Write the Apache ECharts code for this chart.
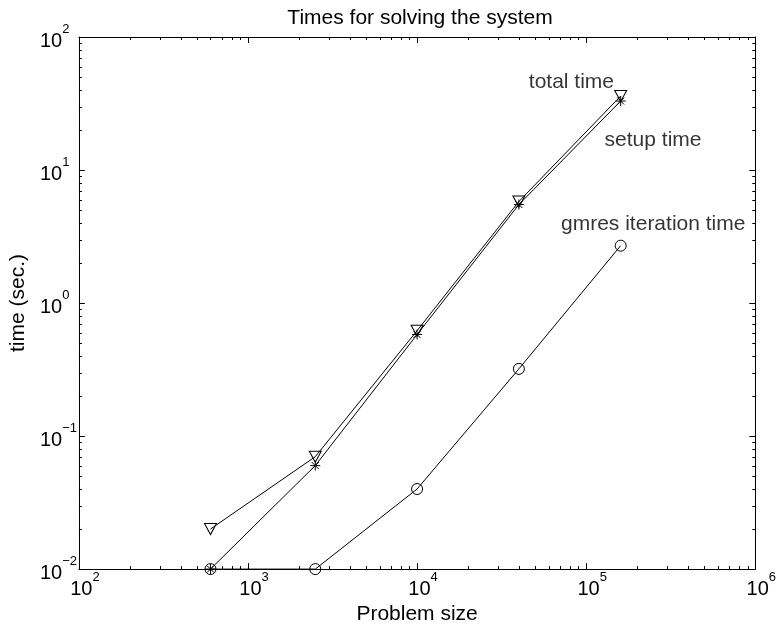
<!DOCTYPE html>
<html>
<head>
<meta charset="utf-8">
<script src="https://cdn.jsdelivr.net/npm/echarts@6/dist/echarts.min.js"></script>
<style>html,body{margin:0;padding:0;background:#fff}#c{width:779px;height:630px}</style>
</head>
<body>
<div id="c"></div>
<script>
// ---- data ----
const problemSize = [600, 2500, 10000, 40000, 160000];
const totalTime = [0.02, 0.07, 0.62, 5.8, 36];
const setupTime = [0.01, 0.06, 0.58, 5.5, 33];
const gmresTime = [0.01, 0.01, 0.04, 0.32, 2.7];
const xRange = [1e2, 1e6];
const yRange = [1e-2, 1e2];
const annotationTexts = ['total time', 'setup time', 'gmres iteration time'];
const annotationX = [45800, 128500, 71000];
const annotationY = [46, 16.7, 3.9];
const titleText = 'Times for solving the system';
const xName = 'Problem size';
const yName = 'time (sec.)';

const FONT = "'Liberation Sans', Arial, Helvetica, sans-serif";
const chart = echarts.init(document.getElementById('c'), null, {renderer: 'canvas'});

function expLabel(v) {
  const e = Math.round(Math.log10(v));
  return '{b|10}{s|' + String(e).replace('-', '\u2212') + '}';
}
const rich = {
  b: {fontSize: 20, lineHeight: 28, verticalAlign: 'bottom', fontFamily: FONT, color: '#000'},
  s: {fontSize: 13, lineHeight: 15, verticalAlign: 'top', fontFamily: FONT, color: '#000'}
};
const axisLineStyle = {show: true, lineStyle: {color: '#000', width: 1}};
const tickStyle = {show: true, inside: true, length: 6, lineStyle: {color: '#000', width: 1}};

function zipXY(ys) { return problemSize.map((x, i) => [x, ys[i]]); }
const openStyle = {color: 'rgba(0,0,0,0)', borderColor: '#000', borderWidth: 1};
const lineStyle = {color: '#000', width: 1};

chart.setOption({
  animation: false,
  backgroundColor: '#fff',
  textStyle: {fontFamily: FONT},
  title: {
    text: titleText, left: 415, top: 3, textAlign: 'center',
    textStyle: {fontSize: 21, fontWeight: 'normal', color: '#000', fontFamily: FONT}
  },
  grid: {left: 67, right: 16, top: 37, bottom: 45, containLabel: false},
  xAxis: [{
    type: 'log', logBase: 10, min: xRange[0], max: xRange[1], splitNumber: 4,
    position: 'bottom',
    name: xName, nameLocation: 'middle', nameGap: 25,
    nameTextStyle: {fontSize: 21, color: '#000', fontFamily: FONT},
    axisLine: axisLineStyle, axisTick: tickStyle, splitLine: {show: false},
    axisLabel: {show: true, margin: 2, formatter: expLabel, rich: rich, padding: [0, 0, 0, 12]}
  }, {
    type: 'log', logBase: 10, min: xRange[0], max: xRange[1], splitNumber: 4,
    position: 'top',
    axisLine: axisLineStyle, axisTick: tickStyle, splitLine: {show: false},
    axisLabel: {show: false}
  }],
  yAxis: [{
    type: 'log', logBase: 10, min: yRange[0], max: yRange[1], splitNumber: 4,
    position: 'left',
    name: yName, nameLocation: 'middle', nameGap: 36, nameRotate: 90,
    nameTextStyle: {fontSize: 21, color: '#000', fontFamily: FONT},
    axisLine: axisLineStyle, axisTick: tickStyle, splitLine: {show: false},
    axisLabel: {show: true, margin: 39, align: 'left', formatter: expLabel, rich: rich}
  }, {
    type: 'log', logBase: 10, min: yRange[0], max: yRange[1], splitNumber: 4,
    position: 'right',
    axisLine: axisLineStyle, axisTick: tickStyle, splitLine: {show: false},
    axisLabel: {show: false}
  }],
  series: [{
    name: 'total', type: 'line', data: zipXY(totalTime), clip: false,
    symbol: 'triangle', symbolRotate: 180, symbolSize: [12, 11],
    itemStyle: openStyle, lineStyle: lineStyle, z: 3
  }, {
    name: 'setup', type: 'line', data: zipXY(setupTime), clip: false,
    symbol: 'path://M5,0L5,10M0,5L10,5M1.5,1.5L8.5,8.5M1.5,8.5L8.5,1.5', symbolSize: 10,
    itemStyle: openStyle, lineStyle: lineStyle, z: 3
  }, {
    name: 'gmres', type: 'line', data: zipXY(gmresTime), clip: false,
    symbol: 'circle', symbolSize: 11,
    itemStyle: openStyle, lineStyle: lineStyle, z: 3
  }, {
    name: 'annotations', type: 'scatter', symbolSize: 0, clip: false, silent: true,
    data: annotationTexts.map((t, i) => ({name: t, value: [annotationX[i], annotationY[i]]})),
    label: {show: true, position: 'right', distance: 0, formatter: '{b}',
            fontSize: 21, color: '#000', fontFamily: FONT}
  }]
});

// minor ticks (log 2..9) on all four sides, positioned through the axes
function minorTicks() {
  const els = [];
  const L = 3;
  const top = chart.convertToPixel({gridIndex: 0}, [xRange[0], yRange[1]]);
  const bot = chart.convertToPixel({gridIndex: 0}, [xRange[1], yRange[0]]);
  const x0 = top[0], y0 = top[1], x1 = bot[0], y1 = bot[1];
  const style = {stroke: '#000', lineWidth: 1};
  for (let d = Math.log10(xRange[0]); d < Math.log10(xRange[1]); d++) {
    for (let m = 2; m <= 9; m++) {
      const px = Math.round(chart.convertToPixel({xAxisIndex: 0}, m * Math.pow(10, d))) + 0.5;
      els.push({type: 'line', shape: {x1: px, y1: y1, x2: px, y2: y1 - L}, style: style, silent: true, z: 10});
      els.push({type: 'line', shape: {x1: px, y1: y0, x2: px, y2: y0 + L}, style: style, silent: true, z: 10});
    }
  }
  for (let d = Math.log10(yRange[0]); d < Math.log10(yRange[1]); d++) {
    for (let m = 2; m <= 9; m++) {
      const py = Math.round(chart.convertToPixel({yAxisIndex: 0}, m * Math.pow(10, d))) + 0.5;
      els.push({type: 'line', shape: {x1: x0, y1: py, x2: x0 + L, y2: py}, style: style, silent: true, z: 10});
      els.push({type: 'line', shape: {x1: x1, y1: py, x2: x1 - L, y2: py}, style: style, silent: true, z: 10});
    }
  }
  return els;
}
chart.setOption({graphic: minorTicks()});
</script>
</body>
</html>
